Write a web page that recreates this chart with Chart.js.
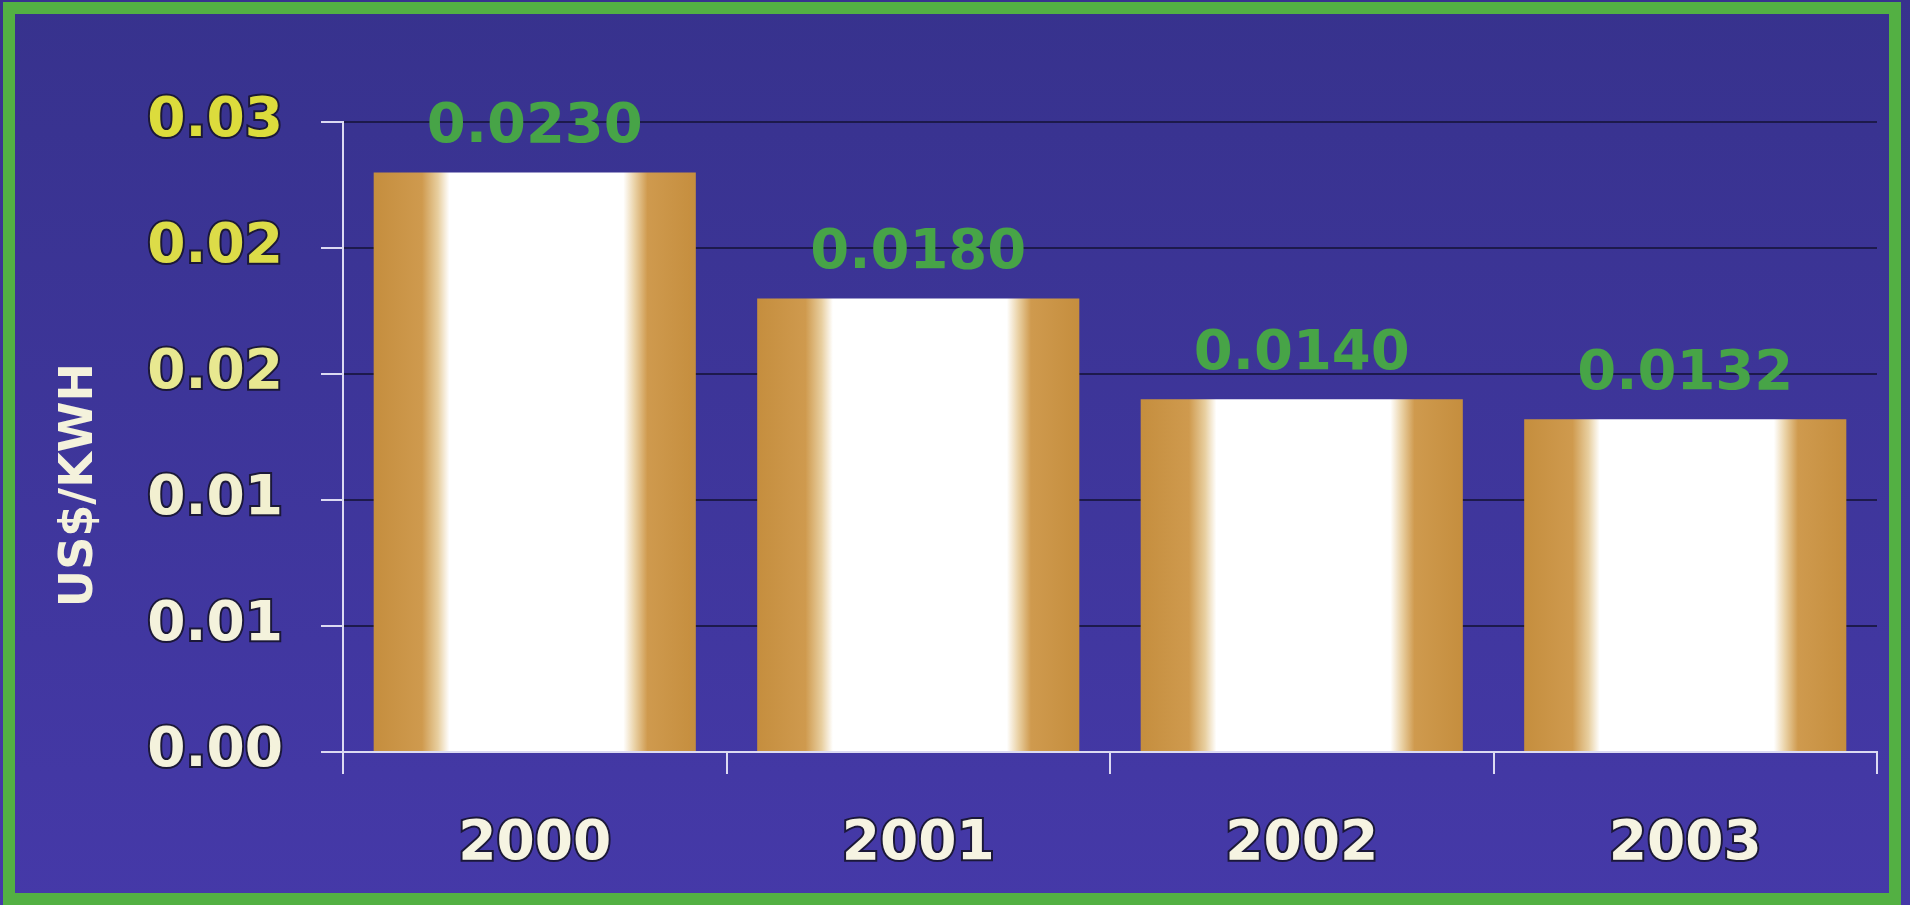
<!DOCTYPE html>
<html>
<head>
<meta charset="utf-8">
<script src="https://cdn.jsdelivr.net/npm/chart.js@4"></script>
<style>
  html, body { margin: 0; padding: 0; }
  body {
    width: 1910px;
    height: 905px;
    overflow: hidden;
    background: linear-gradient(#37328d, #4539a8);
    position: relative;
  }
  #frame {
    position: absolute;
    left: 3px;
    top: 2px;
    width: 1898px;
    height: 903px;
    box-sizing: border-box;
    border: 12px solid #53b043;
  }
  #costChart { position: absolute; left: 0; top: 0; }
</style>
</head>
<body>
<div id="frame"></div>
<canvas id="costChart" width="1910" height="905"></canvas>
<script>
const years = ["2000", "2001", "2002", "2003"];
const costs = [0.023, 0.018, 0.014, 0.0132];
const yTickLabels = ["0.00", "0.01", "0.01", "0.02", "0.02", "0.03"];
const yTickColors = ["#f4f2dc", "#f4f2dc", "#f2f0d0", "#e8e890", "#dcdc48", "#dcdc3c"];

const ochre = "#c99242";
const gridDark = "#1d1a4c";
const axisWhite = "#dcdaf2";

// white-centred ochre fill, one gradient per bar
function barFill(c) {
  const chart = c.chart;
  const area = chart.chartArea;
  if (!area || c.type !== "data") return ochre;
  const x = chart.scales.x.getPixelForValue(c.dataIndex);
  const w = ((area.right - area.left) / years.length) * 0.84;
  const g = chart.ctx.createLinearGradient(x - w / 2, 0, x + w / 2, 0);
  g.addColorStop(0, "#c58e3e");
  g.addColorStop(0.15, "#cf9a4e");
  g.addColorStop(0.2, "#e8cfa0");
  g.addColorStop(0.235, "#ffffff");
  g.addColorStop(0.775, "#ffffff");
  g.addColorStop(0.81, "#ead2a6");
  g.addColorStop(0.85, "#cf9a4e");
  g.addColorStop(1, "#c58e3e");
  return g;
}

// value text above each bar
const valueLabels = {
  id: "valueLabels",
  afterDatasetsDraw(chart) {
    const ctx = chart.ctx;
    const meta = chart.getDatasetMeta(0);
    ctx.save();
    ctx.font = 'bold 56px "DejaVu Sans"';
    ctx.fillStyle = "#47a447";
    ctx.textAlign = "center";
    ctx.textBaseline = "alphabetic";
    meta.data.forEach((bar, i) => {
      ctx.fillText(costs[i].toFixed(4), bar.x, bar.y - 30);
    });
    ctx.restore();
  },
};

const costCtx = document.getElementById("costChart").getContext("2d");
const costChart = new Chart(costCtx, {
  type: "bar",
  data: {
    labels: years,
    datasets: [
      {
        label: "US$/KWH",
        data: costs,
        backgroundColor: barFill,
        borderWidth: 0,
        barPercentage: 0.84,
        categoryPercentage: 1.0,
      },
    ],
  },
  plugins: [valueLabels],
  options: {
    responsive: false,
    animation: false,
    layout: {
      padding: { left: 52, right: 33, top: 122, bottom: 0 },
    },
    plugins: {
      legend: { display: false },
      tooltip: { enabled: false },
    },
    scales: {
      x: {
        grid: {
          color: (c) => (c.index === years.length ? gridDark : "transparent"),
          tickColor: axisWhite,
          tickLength: 22,
          lineWidth: 2,
        },
        border: { color: axisWhite, width: 2 },
        ticks: {
          color: "#f6f4e2",
          font: { family: "DejaVu Sans", size: 55, weight: "bold" },
          textStrokeColor: "#1b1838",
          textStrokeWidth: 4,
          padding: 38,
        },
        afterFit(scale) {
          scale.height = 905 - 752;
        },
      },
      y: {
        min: 0,
        max: 0.025,
        ticks: {
          stepSize: 0.005,
          callback: (v, i) => yTickLabels[i],
          color: (c) => yTickColors[c.index],
          font: { family: "DejaVu Sans", size: 55, weight: "bold" },
          textStrokeColor: "#1b1838",
          textStrokeWidth: 4,
          padding: 38,
        },
        grid: {
          color: gridDark,
          tickColor: axisWhite,
          tickLength: 22,
          lineWidth: 2,
        },
        border: { color: axisWhite, width: 2 },
        title: {
          display: true,
          text: "US$/KWH      ",
          color: "#f4f2dc",
          font: { family: "DejaVu Sans", size: 46, weight: "bold" },
          padding: 0,
        },
        afterFit(scale) {
          scale.width = 343 - 52;
        },
      },
    },
  },
});
</script>
</body>
</html>
